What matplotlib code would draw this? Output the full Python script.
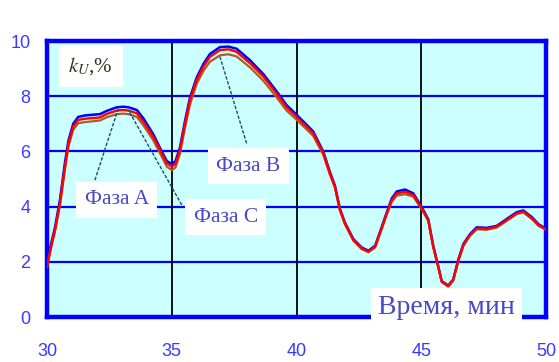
import matplotlib
matplotlib.use("Agg")
import matplotlib.pyplot as plt

plt.rcParams['mathtext.fontset'] = 'stix'

# time, min
t = [30.0, 30.15, 30.32, 30.52, 30.72, 30.86, 31.05, 31.25, 31.5, 31.72,
     32.12, 32.4, 32.8, 33.05, 33.26, 33.6, 33.86, 34.26, 34.53, 34.8,
     35.0, 35.15, 35.33, 35.53, 35.73, 36.0, 36.27, 36.53, 36.93, 37.27,
     37.6, 38.14, 38.67, 39.2, 39.6, 40.0, 40.4, 40.67, 41.07, 41.34,
     41.54, 41.74, 41.94, 42.28, 42.61, 42.88, 43.15, 43.41, 43.62, 43.82,
     44.02, 44.35, 44.68, 45.02, 45.28, 45.48, 45.68, 45.82, 46.08, 46.28,
     46.49, 46.69, 46.95, 47.22, 47.62, 48.02, 48.42, 48.83, 49.09, 49.43,
     49.7, 50.0]

# k_U, % for phases
phase_a = [1.82, 2.5, 3.15, 4.13, 5.45, 6.29, 6.9, 7.14, 7.18, 7.2,
           7.23, 7.36, 7.48, 7.5, 7.48, 7.38, 7.08, 6.53, 6.05, 5.57,
           5.45, 5.55, 6.05, 7.0, 7.86, 8.59, 9.07, 9.43, 9.67, 9.7,
           9.61, 9.19, 8.71, 8.1, 7.6, 7.26, 6.9, 6.66, 5.95, 5.2,
           4.72, 3.88, 3.39, 2.79, 2.49, 2.37, 2.55, 3.21, 3.76, 4.24,
           4.48, 4.54, 4.42, 3.94, 3.51, 2.55, 1.82, 1.28, 1.12, 1.34,
           2.07, 2.61, 2.97, 3.21, 3.19, 3.27, 3.51, 3.76, 3.82, 3.58,
           3.33, 3.18]
phase_b = [1.85, 2.6, 3.25, 4.25, 5.6, 6.4, 7.0, 7.25, 7.3, 7.32,
           7.35, 7.47, 7.6, 7.62, 7.6, 7.5, 7.2, 6.62, 6.12, 5.65,
           5.55, 5.65, 6.15, 7.1, 7.95, 8.68, 9.17, 9.53, 9.78, 9.8,
           9.72, 9.3, 8.8, 8.18, 7.68, 7.33, 6.97, 6.72, 6.0, 5.25,
           4.76, 3.92, 3.42, 2.82, 2.52, 2.4, 2.58, 3.25, 3.8, 4.3,
           4.55, 4.62, 4.48, 3.98, 3.54, 2.58, 1.84, 1.3, 1.14, 1.36,
           2.1, 2.65, 3.0, 3.25, 3.23, 3.3, 3.55, 3.8, 3.86, 3.62,
           3.36, 3.2]
phase_c = [1.8, 2.45, 3.1, 4.05, 5.35, 6.18, 6.78, 7.02, 7.06, 7.08,
           7.12, 7.24, 7.35, 7.37, 7.35, 7.25, 6.95, 6.4, 5.93, 5.45,
           5.32, 5.42, 5.92, 6.85, 7.7, 8.45, 8.92, 9.25, 9.48, 9.52,
           9.44, 9.04, 8.56, 7.96, 7.48, 7.15, 6.8, 6.56, 5.88, 5.15,
           4.68, 3.85, 3.36, 2.76, 2.46, 2.35, 2.52, 3.17, 3.72, 4.18,
           4.4, 4.45, 4.36, 3.9, 3.48, 2.53, 1.8, 1.27, 1.1, 1.32,
           2.04, 2.58, 2.94, 3.18, 3.16, 3.24, 3.48, 3.73, 3.79, 3.55,
           3.3, 3.16]

xticks = [30, 35, 40, 45, 50]
yticks = [0, 2, 4, 6, 8, 10]

fig = plt.figure(figsize=(5.59, 3.62), dpi=100)
ax = fig.add_axes([0.0841, 0.1243, 0.8927, 0.7624])
ax.set_facecolor('#ccffff')
ax.set_xlim(30, 50)
ax.set_ylim(0, 10)

# grid: blue horizontal, black vertical
for y in yticks[1:-1]:
    ax.axhline(y, color='#0000ff', lw=1.6, zorder=1)
for x in xticks[1:-1]:
    ax.axvline(x, color='black', lw=1.3, zorder=1)

ax.plot(t, phase_b, color='#0000ff', lw=1.8, zorder=3)
ax.plot(t, phase_c, color='#b05a28', lw=1.6, zorder=3)
ax.plot(t, phase_a, color='#ff0000', lw=1.7, zorder=4)

for s in ax.spines.values():
    s.set_color('#0000ff')
    s.set_linewidth(3.2)

ax.set_xticks(xticks)
ax.set_yticks(yticks)
ax.tick_params(length=0, colors='#3a3aff', labelsize=13)
ax.tick_params(axis='x', pad=19)
ax.tick_params(axis='y', pad=12)
for lab in ax.get_xticklabels() + ax.get_yticklabels():
    lab.set_family('Liberation Sans')

# leader lines
lead = dict(color='#1a4f6f', lw=1, ls=(0, (2.5, 1.2)), zorder=5)
ax.plot([31.92, 32.86], [4.96, 7.56], **lead)
ax.plot([35.4, 33.26], [4.06, 7.5], **lead)
ax.plot([38.0, 36.93], [6.29, 9.43], **lead)

box = dict(facecolor='white', edgecolor='none', pad=6)
txt = dict(color='#4848c8', family='Liberation Serif', fontsize=15.5,
           ha='center', va='center', zorder=6)
ax.text(32.8, 4.24, 'Фаза A', bbox=box, **txt)
ax.text(37.17, 3.62, 'Фаза C', bbox=box, **txt)
ax.text(38.06, 5.47, 'Фаза B', bbox=box, **txt)

ax.text(31.75, 9.1, r'$k_U$,%', color='#3a3020', family='Liberation Serif',
        fontsize=15, ha='center', va='center', zorder=6,
        bbox=dict(facecolor='white', edgecolor='none', pad=7))

ax.text(46.0, 0.36, 'Время, мин', color='#4848c8', family='Liberation Serif',
        fontsize=20, ha='center', va='center', zorder=7, clip_on=False,
        bbox=dict(facecolor='white', edgecolor='none', pad=5))

fig.savefig('out.png', dpi=100)
